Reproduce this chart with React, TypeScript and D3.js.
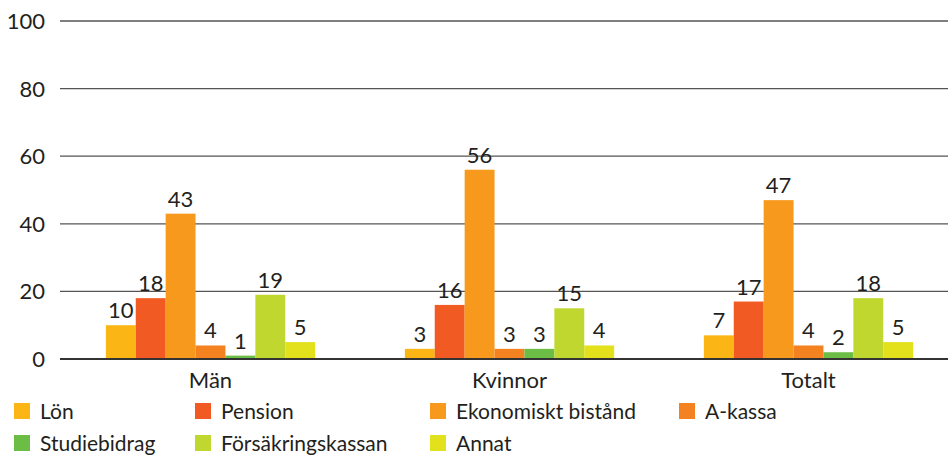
import React from "react";
import * as d3 from "d3";

const groups = ["Män", "Kvinnor", "Totalt"];
const seriesNames = ["Lön", "Pension", "Ekonomiskt bistånd", "A-kassa", "Studiebidrag", "Försäkringskassan", "Annat"];
const seriesColors = ["#FBB615", "#F15A22", "#F7991C", "#F58220", "#6CBD45", "#C0D72F", "#E2E11B"];
const valuesMan = [10, 18, 43, 4, 1, 19, 5];
const valuesKvinnor = [3, 16, 56, 3, 3, 15, 4];
const valuesTotalt = [7, 17, 47, 4, 2, 18, 5];
const yTicks = [0, 20, 40, 60, 80, 100];

const W = 948;
const H = 455;
const FONT = "Lato, 'Open Sans', sans-serif";
const TEXT = "#231F20";

export default function App() {
  const values = [valuesMan, valuesKvinnor, valuesTotalt];
  const x = d3.scaleBand<string>().domain(groups).range([61, 958]).padding(0);
  const xi = d3
    .scaleBand<string>()
    .domain(seriesNames)
    .range([0, x.bandwidth()])
    .paddingInner(0)
    .paddingOuter(1.5);
  const y = d3.scaleLinear().domain([0, 100]).range([359, 21]);

  const legendCols = [14, 195, 430, 679];
  const legendRows = [403, 435];
  const legendItems = seriesNames.map((name, i) => ({
    name,
    color: seriesColors[i],
    col: i % 4,
    row: Math.floor(i / 4),
  }));

  return (
    <svg
      width={W}
      height={H}
      style={{ position: "absolute", left: 0, top: 0, background: "#fff" }}
      fontFamily={FONT}
    >
      {yTicks.map((t) => (
        <g key={t}>
          {t > 0 && (
            <line x1={60} x2={W} y1={y(t)} y2={y(t)} stroke="#555" strokeWidth={1.3} />
          )}
          <text
            x={45}
            y={y(t)}
            dy="0.36em"
            textAnchor="end"
            fontSize={22}
            fill={TEXT}
          >
            {t}
          </text>
        </g>
      ))}
      {groups.map((g, gi) => (
        <g key={g} transform={`translate(${x(g)},0)`}>
          {seriesNames.map((s, si) => {
            const v = values[gi][si];
            const bx = xi(s)!;
            return (
              <g key={s}>
                <rect
                  x={bx}
                  y={y(v)}
                  width={xi.bandwidth()}
                  height={y(0) - y(v)}
                  fill={seriesColors[si]}
                />
                <text
                  x={bx + xi.bandwidth() / 2}
                  y={y(v) - 7}
                  textAnchor="middle"
                  fontSize={22}
                  fill={TEXT}
                >
                  {v}
                </text>
              </g>
            );
          })}
          <text
            x={x.bandwidth() / 2}
            y={388}
            textAnchor="middle"
            fontSize={22}
            fill={TEXT}
          >
            {g}
          </text>
        </g>
      ))}
      <line x1={60} x2={W} y1={y(0)} y2={y(0)} stroke="#333" strokeWidth={2} />
      {legendItems.map((it) => (
        <g key={it.name} transform={`translate(${legendCols[it.col]},${legendRows[it.row]})`}>
          <rect x={0} y={0} width={16} height={16} fill={it.color} />
          <text x={26} y={16} fontSize={21} fill={TEXT}>
            {it.name}
          </text>
        </g>
      ))}
    </svg>
  );
}
